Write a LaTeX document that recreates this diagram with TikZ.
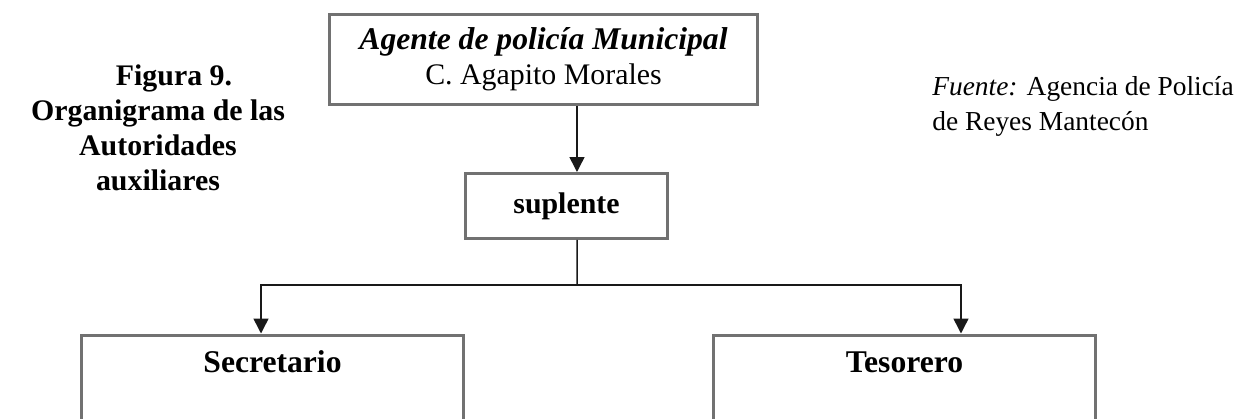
\documentclass[tikz,border=0pt]{standalone}
\usepackage{fontspec}
\setmainfont{Liberation Serif}
\usetikzlibrary{arrows.meta,positioning}
\definecolor{marco}{HTML}{717171}
\def\fsize{\fontsize{17}{19.9}\selectfont}
\def\fbig{\fontsize{18}{19.9}\selectfont}
\def\fsmall{\fontsize{15.6}{19.9}\selectfont}

\begin{document}
\begin{tikzpicture}[x=0.02cm, y=-0.02cm,
    every node/.style={font=\fsize, inner sep=0pt},
    caja/.style={draw=marco, line width=0.06cm, rectangle, align=center},
    linea/.style={draw=black!90, line width=0.03cm},
    flecha/.style={linea, -{Triangle[width=0.3cm,length=0.3cm]}}]
  \useasboundingbox (0,0) rectangle (1238,419);
  \clip (0,0) rectangle (1238,419);
  % cajas
  \node[caja, minimum width=8.56cm, minimum height=1.8cm] (agente) at (543.5,59.5)
    {{\fbig\bfseries\itshape Agente de policía Municipal}\\C. Agapito Morales};
  \node[caja, minimum width=4.04cm, minimum height=1.3cm, font=\fsize\bfseries] (suplente) at (566.5,206) {suplente};
  \node[caja, minimum width=7.64cm, minimum height=4cm, anchor=north] (secretario) at (272.5,333.5) {};
  \node[caja, minimum width=7.64cm, minimum height=4cm, anchor=north] (tesorero) at (904.5,333.5) {};
  \node[font=\fbig\bfseries] (secretarioTxt) at ([yshift=-0.57cm]secretario.north) {Secretario};
  \node[font=\fbig\bfseries] (tesoreroTxt) at ([yshift=-0.57cm]tesorero.north) {Tesorero};
  % textos
  \node[font=\fsize\bfseries, align=center] (titulo) at (158,127.5)
    {\hspace*{0.64cm}Figura 9.\\Organigrama de las\\Autoridades\\auxiliares};
  \node[font=\fsmall, anchor=west, align=left] (fuente) at (932,106.5)
    {{\itshape Fuente:} Agencia de Policía\\de Reyes Mantecón};
  % conectores
  \coordinate (split) at (577,285);
  \draw[flecha] ([xshift=0.67cm]agente.south) -- ([xshift=0.67cm]agente.south |- suplente.north);
  \draw[linea] ([xshift=0.21cm]suplente.south) -- (split);
  \draw[flecha] (split) -| ([xshift=-0.23cm]secretario.north);
  \draw[flecha] (split) -| ([xshift=1.13cm]tesorero.north);
\end{tikzpicture}
\end{document}
